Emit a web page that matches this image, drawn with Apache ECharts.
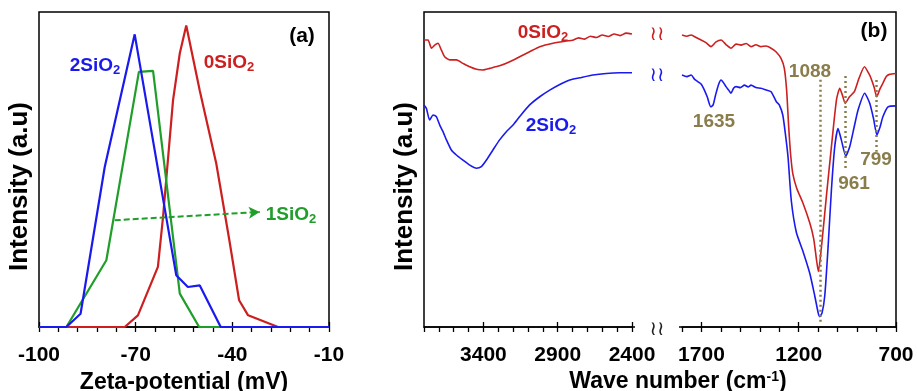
<!DOCTYPE html>
<html><head><meta charset="utf-8">
<script src="https://cdn.jsdelivr.net/npm/echarts@6/dist/echarts.min.js"></script>
<style>html,body{margin:0;padding:0;background:#fff}#c{width:917px;height:391px}</style>
</head><body><div id="c"></div>
<script>
// ---------- Panel (a): zeta potential ----------
const zetaRed = [[-100,0],[-73.4,0],[-69.3,3.7],[-63.1,19.1],[-61.5,35],[-58.4,72],[-56.3,86.9],[-54.3,95.7],[-50.1,75],[-45,52],[-41,28],[-37.9,8.5],[-35.1,3.7],[-25.8,0],[-10,0]];
const zetaGreen = [[-100,0],[-91.5,0],[-79.1,21.2],[-69.0,81.0],[-64.6,81.3],[-56.3,10.6],[-50.3,0],[-10,0]];
const zetaBlue = [[-100,0],[-91.5,0],[-87.1,4.2],[-79.6,50.8],[-70.3,92.9],[-57.4,16.4],[-53.8,12.7],[-50.1,13.2],[-43.6,0],[-10,0]];
const zetaArrow = [[-76.5,33.9],[-31.5,36.5]];
const zetaTicks = [-100,-70,-40,-10];
const zetaMinorTicks = [-100,-94,-88,-82,-76,-70,-64,-58,-52,-46,-40,-34,-28,-22,-16,-10];

// ---------- Panel (b): FTIR ----------
const ftirRedHigh = [[3800,91.1],[3773,91.1],[3750,88.5],[3728,89.5],[3706,90.1],[3683,87.9],[3661,85.8],[3627,84.8],[3582,84.8],[3538,83.7],[3492,82.6],[3447,81.8],[3403,81.6],[3358,82.1],[3291,82.9],[3223,84.2],[3156,85.8],[3089,87.4],[3021,89.0],[2932,90.1],[2842,90.8],[2800,91.0],[2760,91.8],[2720,91.4],[2680,92.3],[2640,91.9],[2600,92.7],[2560,92.2],[2520,93.0],[2480,92.5],[2440,93.3],[2400,93.0]];
const ftirBlueHigh = [[3800,70.5],[3784,69.4],[3762,65.7],[3739,67.3],[3717,66.8],[3694,64.1],[3672,62.0],[3649,59.4],[3616,56.2],[3582,54.6],[3538,53.0],[3492,51.4],[3447,50.4],[3414,50.9],[3380,53.0],[3336,56.2],[3291,59.4],[3246,62.0],[3201,64.1],[3156,66.8],[3089,70.5],[3021,73.1],[2954,75.2],[2886,77.0],[2819,78.4],[2752,79.1],[2663,80.0],[2573,80.5],[2483,80.7],[2400,80.7]];
const ftirRedLow = [[1800,92.7],[1775,92.3],[1753,92.7],[1725,91.8],[1702,91.1],[1675,90.2],[1651,89.0],[1625,90.5],[1599,91.1],[1573,89.6],[1548,88.5],[1522,89.8],[1497,89.5],[1470,90.0],[1445,89.0],[1420,89.6],[1394,89.0],[1368,89.2],[1342,88.5],[1317,87.4],[1291,85.3],[1274,82.1],[1262,75],[1252,64],[1242,55],[1230,48.5],[1210,44],[1178,39.3],[1143,33],[1123,28],[1109,21.5],[1099,17.6],[1083,25.5],[1058,41.4],[1032,57.2],[1006,72.1],[989,75.8],[975,73.5],[961,71.0],[940,73.0],[914,74.7],[890,79],[862,82.6],[840,80.5],[828,78.9],[812,76],[799,73.1],[783,75.5],[768,77.3],[750,79.5],[734,80.2],[700,80.5]];
const ftirBlueLow = [[1800,80.0],[1775,79.5],[1753,80.0],[1735,78.6],[1719,77.9],[1700,77.0],[1685,75.2],[1670,73],[1652,69.9],[1640,70.5],[1628,73.5],[1612,77],[1599,78.4],[1586,77.5],[1574,76.3],[1560,75.2],[1548,74.2],[1535,75.8],[1522,76.3],[1500,76.0],[1479,76.8],[1460,76.2],[1445,76.8],[1420,76.0],[1394,75.8],[1370,75.3],[1342,74.7],[1315,71.5],[1300,70.5],[1282,67.3],[1268,61],[1255,54],[1238,40],[1212,30],[1178,24],[1143,17],[1118,10],[1100,4.5],[1092,3.3],[1080,4.5],[1066,10],[1049,25.5],[1032,43.5],[1015,57.2],[998,63.0],[981,59.4],[958,54.3],[938,57.2],[915,63.5],[895,68.9],[861,74.2],[835,71.0],[815,66],[798,61.0],[782,63.5],[767,66.8],[741,69.9],[700,70.2]];
const waveTicksHigh = [3400,2900,2400];
const waveMinorHigh = [3800,3700,3600,3500,3400,3300,3200,3100,3000,2900,2800,2700,2600,2500,2400];
const waveTicksLow = [1700,1200,700];
const waveMinorLow = [1800,1700,1600,1500,1400,1300,1200,1100,1000,900,800,700];
const peakLines = [[1088,78.5,1.6],[961,79.7,49.8],[799,78.4,55.6]];
const peakLabels = ['1088','1635','961','799'];

const FONT = '"Liberation Sans", Arial, Helvetica, sans-serif';
const RED = '#cc1f1f', BLUE = '#1a1aee', GREEN = '#1f9e2a', GOLD = '#8a7d4c';

const labelStyle = {fontFamily: FONT, fontWeight: 'bold', fontSize: 21, color: '#000', margin: 18, formatter: v => String(v)};
const nameStyle = {fontFamily: FONT, fontWeight: 'bold', fontSize: 23, color: '#000'};
const tickLine = {color: '#000', width: 1.3};

function minorAxis(grid, min, max, inverse, minor, major) {
  return {
    gridIndex: grid, type: 'value', min: min, max: max, inverse: inverse, position: 'bottom',
    axisLine: {show: true, onZero: false, lineStyle: {color: '#000', width: 1.5}},
    axisTick: {show: true, length: 5, customValues: minor, lineStyle: tickLine},
    axisLabel: Object.assign({customValues: major}, labelStyle),
    splitLine: {show: false}
  };
}
function majorAxis(grid, min, max, inverse, major) {
  return {
    gridIndex: grid, type: 'value', min: min, max: max, inverse: inverse, position: 'bottom',
    axisLine: {show: false, onZero: false},
    axisTick: {show: true, inside: true, length: 5, customValues: major, lineStyle: tickLine},
    axisLabel: {show: false}, splitLine: {show: false}
  };
}
function hiddenY(grid) {
  return {gridIndex: grid, type: 'value', min: 0, max: 100, show: false, splitLine: {show: false}};
}
function sio(prefix, color, size) {
  return {
    text: '{m|' + prefix + 'SiO}{s|2}',
    rich: {
      m: {fontFamily: FONT, fontWeight: 'bold', fontSize: size, fill: color, color: color},
      s: {fontFamily: FONT, fontWeight: 'bold', fontSize: Math.round(size * 0.68), fill: color, color: color, padding: [9, 0, 0, 0], verticalAlign: 'bottom'}
    }
  };
}
function txt(x, y, content, color, size) {
  const st = typeof content === 'string'
    ? {text: content, fontFamily: FONT, fontWeight: 'bold', fontSize: size, fill: color}
    : Object.assign({fill: color}, content);
  st.align = 'center'; st.verticalAlign = 'middle';
  return {type: 'text', x: x, y: y, z: 20, style: st};
}
const gridBase = {top: 12, height: 315, outerBoundsMode: 'none', containLabel: false};

const chart = echarts.init(document.getElementById('c'), null, {renderer: 'canvas'});
const option = {
  animation: false,
  backgroundColor: '#fff',
  grid: [
    Object.assign({left: 39, width: 290, show: true, borderColor: '#000', borderWidth: 1.5, backgroundColor: 'transparent'}, gridBase),
    Object.assign({left: 424, width: 472, show: true, borderColor: '#000', borderWidth: 1.5, backgroundColor: 'transparent'}, gridBase),
    Object.assign({left: 424, width: 208}, gridBase),
    Object.assign({left: 682, width: 214}, gridBase)
  ],
  xAxis: [
    Object.assign(minorAxis(0, -100, -10, false, zetaMinorTicks, zetaTicks), {
      name: 'Zeta-potential (mV)', nameLocation: 'middle', nameGap: 43, nameTextStyle: nameStyle
    }),
    majorAxis(0, -100, -10, false, zetaTicks),
    {gridIndex: 1, type: 'value', min: 0, max: 1, position: 'bottom',
     axisLine: {show: false}, axisTick: {show: false}, axisLabel: {show: false}, splitLine: {show: false},
     name: '{t|Wave number (cm}{p|-1}{t|)}', nameLocation: 'middle', nameGap: 43,
     nameTextStyle: Object.assign({}, nameStyle, {padding: [0, 0, 0, 36], rich: {
       t: {fontFamily: FONT, fontWeight: 'bold', fontSize: 23, color: '#000'},
       p: {fontFamily: FONT, fontWeight: 'bold', fontSize: 14, color: '#000', verticalAlign: 'top', padding: [0, 0, 10, 0]}
     }})},
    minorAxis(2, 2400, 3800, true, waveMinorHigh, waveTicksHigh),
    majorAxis(2, 2400, 3800, true, waveTicksHigh),
    minorAxis(3, 700, 1800, true, waveMinorLow, waveTicksLow),
    majorAxis(3, 700, 1800, true, waveTicksLow)
  ],
  yAxis: [
    {gridIndex: 0, type: 'value', min: 0, max: 100,
     axisLine: {show: false}, axisTick: {show: false}, axisLabel: {show: false}, splitLine: {show: false},
     name: 'Intensity (a.u)', nameLocation: 'middle', nameRotate: 90, nameGap: 6,
     nameTextStyle: Object.assign({}, nameStyle, {fontSize: 26, padding: [0, 34, 0, 0]})},
    {gridIndex: 1, type: 'value', min: 0, max: 1,
     axisLine: {show: false}, axisTick: {show: false}, axisLabel: {show: false}, splitLine: {show: false},
     name: 'Intensity (a.u)', nameLocation: 'middle', nameRotate: 90, nameGap: 6,
     nameTextStyle: Object.assign({}, nameStyle, {fontSize: 26, padding: [0, 34, 0, 0]})},
    hiddenY(2),
    hiddenY(3)
  ],
  series: [
    {type: 'line', xAxisIndex: 0, yAxisIndex: 0, data: zetaRed, symbol: 'none', lineStyle: {color: RED, width: 2.2}, z: 3},
    {type: 'line', xAxisIndex: 0, yAxisIndex: 0, data: zetaGreen, symbol: 'none', lineStyle: {color: GREEN, width: 2.2}, z: 4,
     markLine: {silent: true, symbol: ['none', 'arrow'], symbolSize: [9, 11], label: {show: false},
       lineStyle: {color: GREEN, width: 2, type: [6, 3]},
       data: [[{coord: zetaArrow[0]}, {coord: zetaArrow[1]}]]}},
    {type: 'line', xAxisIndex: 0, yAxisIndex: 0, data: zetaBlue, symbol: 'none', lineStyle: {color: BLUE, width: 2.2}, z: 5},
    {type: 'line', xAxisIndex: 3, yAxisIndex: 2, data: ftirRedHigh, symbol: 'none', smooth: 0.2, lineStyle: {color: RED, width: 1.6}},
    {type: 'line', xAxisIndex: 3, yAxisIndex: 2, data: ftirBlueHigh, symbol: 'none', smooth: 0.2, lineStyle: {color: BLUE, width: 1.6}},
    {type: 'line', xAxisIndex: 5, yAxisIndex: 3, data: ftirRedLow, symbol: 'none', smooth: 0.2, lineStyle: {color: RED, width: 1.6}, z: 4,
     markLine: {silent: true, symbol: 'none', label: {show: false}, lineStyle: {color: GOLD, width: 2.5, type: [2, 3]},
       data: peakLines.map(p => [{coord: [p[0], p[1]]}, {coord: [p[0], p[2]]}])}},
    {type: 'line', xAxisIndex: 5, yAxisIndex: 3, data: ftirBlueLow, symbol: 'none', smooth: 0.2, lineStyle: {color: BLUE, width: 1.6}, z: 4}
  ],
  graphic: [
    {type: 'rect', z: 15, shape: {x: 635, y: 324, width: 44, height: 6}, style: {fill: '#fff'}},
    txt(657, 35, {text: '\u2240\u2240', fontFamily: '"DejaVu Sans"', fontSize: 20}, RED),
    txt(657, 76, {text: '\u2240\u2240', fontFamily: '"DejaVu Sans"', fontSize: 20}, BLUE),
    txt(657, 330, {text: '\u2240\u2240', fontFamily: '"DejaVu Sans"', fontSize: 20}, '#222'),
    txt(95, 66, sio('2', BLUE, 19), BLUE),
    txt(229, 63, sio('0', RED, 19), RED),
    txt(291, 215, sio('1', GREEN, 19), GREEN),
    txt(302, 36, '(a)', '#000', 21),
    txt(543, 33, sio('0', RED, 19), RED),
    txt(551, 126, sio('2', BLUE, 19), BLUE),
    txt(874, 31, '(b)', '#000', 21),
    txt(810, 72, peakLabels[0], GOLD, 19),
    txt(714, 122, peakLabels[1], GOLD, 19),
    txt(854, 184, peakLabels[2], GOLD, 19),
    txt(876, 160, peakLabels[3], GOLD, 19)
  ]
};
chart.setOption(option);
</script>
</body></html>
